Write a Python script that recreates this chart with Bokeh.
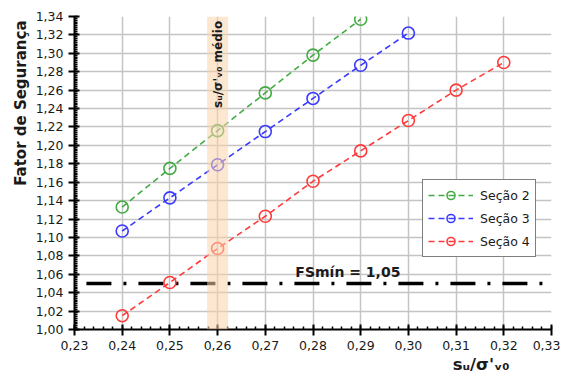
import numpy as np
from bokeh.plotting import figure
from bokeh.models import (Label, BoxAnnotation, FixedTicker, Range1d, Legend, Title)
from bokeh.embed import file_html
from bokeh.resources import INLINE

# ---- data ----
sec2_x = [0.24, 0.25, 0.26, 0.27, 0.28, 0.29]
sec2_y = [1.133, 1.175, 1.216, 1.257, 1.298, 1.337]
sec3_x = [0.24, 0.25, 0.26, 0.27, 0.28, 0.29, 0.30]
sec3_y = [1.107, 1.143, 1.179, 1.215, 1.251, 1.287, 1.322]
sec4_x = [0.24, 0.25, 0.26, 0.27, 0.28, 0.29, 0.30, 0.31, 0.32]
sec4_y = [1.015, 1.051, 1.088, 1.123, 1.161, 1.194, 1.227, 1.260, 1.290]
fs_min = 1.05
fs_x = [0.2325, 0.33]
band_left, band_right = 0.2578, 0.2622
x_ticks = [0.23, 0.24, 0.25, 0.26, 0.27, 0.28, 0.29, 0.30, 0.31, 0.32, 0.33]
x_labels = ["0,23", "0,24", "0,25", "0,26", "0,27", "0,28", "0,29", "0,30", "0,31", "0,32", "0,33"]
y_ticks = [1.00, 1.02, 1.04, 1.06, 1.08, 1.10, 1.12, 1.14, 1.16, 1.18, 1.20,
           1.22, 1.24, 1.26, 1.28, 1.30, 1.32, 1.34]
y_labels = ["1,00", "1,02", "1,04", "1,06", "1,08", "1,10", "1,12", "1,14", "1,16", "1,18", "1,20",
            "1,22", "1,24", "1,26", "1,28", "1,30", "1,32", "1,34"]

FONT = "DejaVu Sans"
TXT = "#1a1a1a"

p = figure(width=560, height=376, output_backend="svg", toolbar_location=None,
           x_range=Range1d(0.23, 0.33), y_range=Range1d(1.00, 1.34),
           min_border_left=74, min_border_right=9, min_border_top=16, min_border_bottom=47)
p.outline_line_color = None
p.background_fill_color = "white"
p.border_fill_color = "white"

# ticks
xminor = list(np.round(np.arange(0.23, 0.3301, 0.002), 4))
yminor = list(np.round(np.arange(1.00, 1.3401, 0.002), 4))
p.xaxis.ticker = FixedTicker(ticks=x_ticks, minor_ticks=xminor)
p.yaxis.ticker = FixedTicker(ticks=y_ticks, minor_ticks=yminor)
p.xaxis.major_label_overrides = {t: l for t, l in zip(x_ticks, x_labels)}
p.yaxis.major_label_overrides = {t: l for t, l in zip(y_ticks, y_labels)}

for ax in (p.xaxis[0], p.yaxis[0]):
    ax.axis_line_color = "black"
    ax.axis_line_width = 2
    ax.major_tick_line_color = "black"
    ax.major_tick_line_width = 2
    ax.major_tick_in = 5
    ax.major_tick_out = 6
    ax.minor_tick_line_color = "black"
    ax.minor_tick_line_width = 1.5
    ax.minor_tick_in = 3
    ax.minor_tick_out = 0
    ax.major_label_text_font = FONT
    ax.major_label_text_font_size = "12.5px"
    ax.major_label_text_color = TXT
    ax.major_label_standoff = 5

p.xgrid.ticker = FixedTicker(ticks=x_ticks)
p.ygrid.ticker = FixedTicker(ticks=y_ticks)
p.grid.grid_line_color = "#c4c4c4"
p.grid.grid_line_width = 1.5

# FSmin line
p.line(fs_x, [fs_min, fs_min], line_color="black", line_width=3.5, line_dash="25 12 3 12")

series = [(sec2_x, sec2_y, "#44aa44", "Seção 2"),
          (sec3_x, sec3_y, "#3a3aff", "Seção 3"),
          (sec4_x, sec4_y, "#ff3a3a", "Seção 4")]
items = []
for xs, ys, c, name in series:
    l = p.line(xs, ys, line_color=c, line_width=1.6, line_dash="6 4")
    s = p.scatter(xs, ys, marker="circle", size=12, fill_color=None, line_color=c, line_width=1.6)
    items.append((name, [l, s]))

legend = Legend(items=items, location=(348, 72))
legend.border_line_color = "black"
legend.border_line_width = 1.5
legend.background_fill_color = "white"
legend.background_fill_alpha = 1
legend.label_text_font = FONT
legend.label_text_font_size = "12.5px"
legend.label_text_color = TXT
legend.glyph_width = 45
legend.glyph_height = 20
legend.label_height = 20
legend.label_standoff = 7
legend.spacing = 3
legend.padding = 5
legend.margin = 0
p.add_layout(legend)

# highlight band
p.add_layout(BoxAnnotation(left=band_left, right=band_right, fill_color="#fbd3ab",
                           fill_alpha=0.55, line_color=None))

p.add_layout(Label(x=0.26, y=1.288, text="sᵤ/σ'ᵥ₀ médio", angle=np.pi / 2,
                   text_align="center", text_baseline="middle", text_font=FONT,
                   text_font_size="12px", text_font_style="bold", text_color=TXT))

p.add_layout(Label(x=0.2763, y=1.0625, text="FSmín = 1,05", text_align="left",
                   text_baseline="middle", text_font=FONT, text_font_size="14px",
                   text_font_style="bold", text_color=TXT))

# axis titles (placed outside the frame)
p.add_layout(Title(text="Fator de Segurança", align="right", offset=4, standoff=6,
                   text_font=FONT, text_font_size="15px", text_font_style="bold",
                   text_color=TXT), "left")
p.add_layout(Title(text="sᵤ/σ'ᵥ₀", align="right", offset=42, standoff=1,
                   text_font=FONT, text_font_size="16.5px", text_font_style="bold",
                   text_color=TXT), "below")

open("out.html", "w").write(file_html(p, INLINE))
